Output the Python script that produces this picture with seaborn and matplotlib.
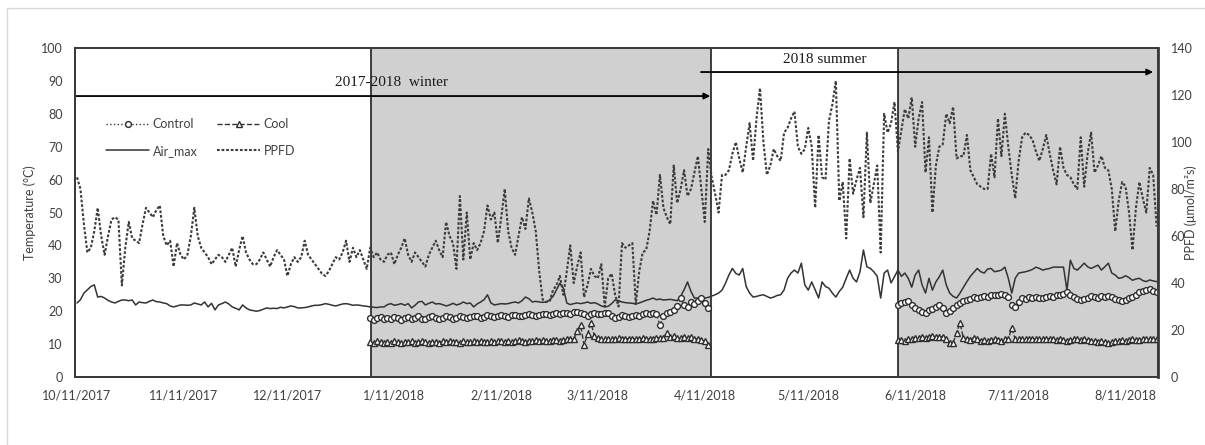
import matplotlib
matplotlib.use("Agg")
import matplotlib.pyplot as plt
from matplotlib.lines import Line2D
import numpy as np
import pandas as pd
import seaborn as sns

# ---- data -------------------------------------------------------------
start = pd.Timestamp("2017-10-11")

# daily photosynthetic photon flux density (right axis), 10/11/2017 - 8/20/2018
ppfd = [
    85, 80, 65, 53, 55, 62, 72, 60, 52, 60, 67, 68, 67, 39, 55, 66, 59, 58, 57, 65,
    72, 70, 68, 71, 73, 60, 56, 58, 47, 57, 52, 50, 52, 60, 72, 60, 55, 53, 51, 48,
    50, 52, 51, 49, 52, 55, 47, 54, 60, 53, 50, 48, 48, 50, 53, 50, 47, 51, 54, 52,
    50, 43, 48, 51, 49, 51, 58, 52, 50, 48, 46, 44, 43, 45, 48, 51, 50, 53, 58, 49,
    55, 51, 54, 50, 46, 55, 51, 53, 50, 49, 52, 53, 48, 52, 55, 59, 52, 49, 53, 51,
    49, 47, 52, 55, 58, 54, 51, 66, 60, 57, 46, 77, 50, 70, 50, 57, 54, 57, 62, 73,
    67, 70, 57, 68, 80, 62, 55, 52, 60, 68, 63, 76, 70, 62, 45, 33, 32, 32, 37, 39,
    43, 35, 45, 56, 40, 47, 53, 34, 39, 46, 43, 42, 48, 30, 42, 44, 35, 30, 57, 55,
    56, 57, 31, 45, 53, 54, 62, 75, 69, 86, 72, 68, 65, 90, 74, 80, 88, 77, 80, 87,
    94, 80, 66, 97, 85, 78, 70, 86, 86, 88, 95, 100, 93, 87, 98, 108, 92, 110, 123, 100,
    86, 90, 97, 94, 92, 104, 106, 110, 113, 98, 95, 97, 106, 98, 72, 103, 85, 84, 109, 116,
    126, 75, 83, 59, 93, 78, 84, 89, 68, 104, 74, 82, 90, 53, 112, 104, 108, 117, 96, 105,
    114, 110, 119, 98, 110, 117, 87, 102, 70, 90, 98, 99, 112, 108, 115, 93, 94, 94, 103, 88,
    85, 82, 81, 80, 80, 95, 85, 110, 94, 112, 98, 86, 76, 92, 102, 104, 103, 101, 96, 92,
    97, 103, 95, 88, 82, 98, 89, 86, 85, 82, 80, 102, 81, 95, 104, 87, 90, 94, 89, 88,
    80, 62, 75, 83, 81, 70, 54, 72, 83, 76, 70, 89, 86, 64,
]

# daily maximum air temperature (left axis), same period
air_max = [
    22.5, 23.5, 25.5, 26.5, 27.5, 28.0, 24.3, 24.5, 24.0, 23.3, 22.8, 22.5, 23.0, 23.4, 23.4, 23.2, 23.4, 21.9, 22.8, 22.6,
    22.5, 23.0, 23.4, 22.9, 22.8, 22.5, 22.3, 21.6, 21.3, 21.6, 21.9, 21.9, 21.8, 21.9, 22.5, 22.2, 21.9, 22.8, 21.3, 22.4,
    20.4, 21.9, 22.3, 22.8, 22.2, 21.3, 20.9, 20.4, 21.9, 21.0, 20.4, 20.2, 20.0, 20.2, 20.6, 21.0, 20.8, 20.9, 20.8, 21.2,
    21.0, 21.3, 21.6, 21.4, 21.0, 21.0, 21.1, 21.3, 21.6, 21.8, 21.8, 22.0, 22.3, 22.1, 21.8, 21.6, 21.9, 22.2, 22.3, 22.1,
    21.8, 21.9, 21.8, 21.6, 21.5, 21.3, 21.2, 21.1, 21.3, 21.3, 22.0, 22.3, 21.8, 22.0, 22.3, 21.8, 22.3, 21.0, 21.8, 22.8,
    23.0, 21.9, 22.4, 22.8, 22.2, 22.3, 22.0, 21.6, 21.9, 22.4, 21.9, 22.2, 22.8, 22.3, 22.5, 21.3, 22.2, 22.8, 23.5, 25.0,
    22.5, 21.9, 22.1, 22.3, 22.2, 22.3, 22.6, 22.8, 22.5, 23.2, 24.3, 23.8, 22.8, 23.0, 22.8, 22.7, 22.8, 23.4, 24.5, 26.5,
    28.5, 27.0, 22.5, 22.0, 22.3, 22.5, 22.3, 22.5, 22.8, 22.4, 22.6, 22.2, 21.6, 21.3, 21.5, 22.3, 23.4, 23.2, 22.8, 22.6,
    22.5, 22.4, 22.2, 22.5, 22.9, 23.3, 23.6, 24.0, 23.5, 23.7, 23.4, 23.5, 23.6, 23.4, 23.2, 24.5, 26.5, 28.9, 26.0, 24.0,
    24.0, 23.8, 24.0, 24.2, 24.6, 25.0, 25.5, 26.4, 28.5, 31.0, 33.0, 31.5, 31.0, 33.0, 27.5, 25.5, 24.3, 24.5, 24.8, 25.0,
    24.5, 24.0, 24.3, 24.8, 25.0, 26.5, 30.0, 31.6, 32.5, 31.6, 34.6, 28.0, 26.4, 28.9, 26.5, 24.0, 28.9, 27.5, 27.0, 25.5,
    24.3, 26.0, 27.3, 30.0, 32.5, 30.0, 28.9, 32.0, 38.6, 33.5, 33.0, 32.0, 30.6, 24.0, 31.6, 32.5, 28.6, 30.5, 32.5, 30.6,
    31.6, 30.0, 27.3, 31.0, 32.5, 28.0, 25.5, 30.0, 26.4, 28.9, 30.5, 32.5, 28.0, 25.5, 24.5, 24.0, 25.5, 27.3, 29.0, 30.6,
    31.8, 33.0, 32.0, 31.6, 32.8, 33.0, 32.0, 32.2, 32.5, 33.4, 30.0, 25.5, 30.0, 31.6, 31.8, 32.0, 32.3, 32.7, 33.4, 33.0,
    32.5, 32.8, 33.0, 33.4, 33.4, 33.4, 33.4, 26.4, 35.5, 33.0, 32.5, 33.5, 34.6, 33.5, 33.0, 33.5, 34.0, 32.5, 33.5, 34.6,
    31.6, 31.0, 30.0, 30.2, 30.8, 30.2, 29.4, 29.8, 30.0, 29.3, 29.0, 29.5, 29.2, 29.0,
]

# root-zone temperatures, winter trial (1/4/2018 - 4/12/2018)
control_winter = [
    17.9, 17.4, 17.8, 18.3, 17.6, 17.9, 17.5, 18.2, 17.8, 17.4,
    17.8, 18.3, 17.6, 17.9, 18.4, 17.7, 17.5, 18.1, 18.5, 17.9,
    17.6, 18.0, 18.4, 18.2, 17.7, 18.0, 18.5, 18.3, 17.8, 18.2,
    18.6, 18.4, 18.0, 18.3, 18.7, 18.5, 18.2, 18.6, 18.9, 18.5,
    18.3, 18.7, 18.9, 18.6, 18.4, 18.8, 19.1, 18.8, 18.6, 18.9,
    19.2, 19.0, 18.7, 19.3, 19.5, 19.1, 19.4, 19.6, 19.3, 19.7,
    19.9, 19.5, 19.2, 18.6, 19.0, 19.6, 19.3, 19.0, 19.5, 19.4,
    18.6, 18.0, 18.3, 18.8, 18.5, 18.2, 18.5, 18.9, 18.6, 19.0,
    19.4, 19.2, 19.4, 19.0, 15.8, 18.5, 19.5, 19.8, 20.4, 21.5,
    24.0, 22.0, 21.3, 22.8, 22.2, 23.0, 24.0, 22.5, 21.0,
]
cool_winter = [
    10.6, 10.3, 10.8, 10.5, 10.2, 10.7, 10.4, 10.9, 10.6, 10.3,
    10.7, 10.5, 10.8, 10.4, 10.6, 10.9, 10.5, 10.3, 10.7, 10.6,
    10.4, 10.8, 10.6, 10.9, 10.5, 10.7, 10.4, 10.8, 10.6, 10.5,
    10.8, 10.6, 10.9, 10.7, 10.5, 10.9, 10.6, 10.8, 11.0, 10.7,
    10.9, 10.6, 10.8, 11.1, 10.9, 10.7, 11.0, 10.8, 11.1, 10.9,
    11.2, 11.0, 10.8, 11.1, 11.3, 11.0, 11.2, 11.4, 11.5, 11.5,
    14.0, 15.8, 9.7, 13.0, 16.4, 12.5, 11.8, 11.6, 11.4, 11.7,
    11.5, 11.6, 11.8, 11.5, 11.7, 11.6, 11.4, 11.7, 11.5, 11.8,
    11.6, 11.5, 11.7, 11.9, 11.8, 12.0, 13.4, 12.2, 12.6, 12.0,
    11.8, 12.2, 11.9, 12.1, 11.7, 11.5, 11.2, 10.8, 9.8,
]

# root-zone temperatures, summer trial (6/6/2018 - 8/20/2018)
control_summer = [
    22.0, 22.6, 22.8, 23.2, 21.8, 21.0, 20.4, 19.8, 19.6, 20.3,
    20.6, 21.3, 21.9, 21.0, 19.6, 20.2, 21.0, 21.9, 22.6, 23.0,
    23.4, 23.8, 24.2, 24.0, 24.3, 24.5, 24.3, 24.8, 25.0, 24.8,
    25.2, 25.0, 24.3, 22.0, 21.3, 22.8, 24.0, 23.8, 24.2, 24.0,
    24.3, 24.1, 24.0, 24.4, 24.6, 24.3, 24.8, 25.0, 25.3, 25.8,
    25.0, 24.3, 23.6, 23.4, 23.6, 24.0, 24.6, 24.3, 24.0, 24.5,
    24.2, 24.6, 24.3, 23.8, 23.4, 23.2, 23.4, 24.0, 24.3, 25.0,
    25.8, 26.0, 26.4, 26.8, 26.0, 25.8,
]
cool_summer = [
    11.2, 11.3, 11.0, 11.4, 11.6, 11.8, 12.0, 12.2, 12.0, 12.3,
    12.4, 12.2, 12.2, 12.3, 11.6, 10.3, 10.4, 13.5, 16.4, 11.8,
    11.6, 11.2, 12.0, 11.5, 11.0, 11.2, 10.8, 11.2, 11.5, 11.2,
    11.0, 11.6, 11.6, 14.8, 11.5, 11.6, 11.5, 11.6, 11.7, 11.5,
    11.6, 11.5, 11.4, 11.6, 11.7, 11.5, 11.3, 11.4, 11.2, 11.0,
    11.2, 11.4, 11.6, 11.3, 11.5, 11.2, 11.0, 10.8, 10.6, 10.9,
    10.5, 10.3, 10.6, 10.8, 11.0, 11.2, 10.9, 11.2, 11.4, 11.1,
    11.3, 11.5, 11.4, 11.6, 11.5, 11.6,
]

tick_dates = ["2017-10-11", "2017-11-11", "2017-12-11", "2018-01-11", "2018-02-11", "2018-03-11",
              "2018-04-11", "2018-05-11", "2018-06-11", "2018-07-11", "2018-08-11"]
season_labels = ["2017-2018  winter", "2018 summer"]
legend_labels = ["Control", "Air_max", "Cool", "PPFD"]

# ---- frames -----------------------------------------------------------
all_days = pd.date_range(start, periods=len(ppfd), freq="D")
df_env = pd.DataFrame({"date": all_days, "ppfd": ppfd, "air_max": air_max})
win_days = pd.date_range("2018-01-04", periods=len(control_winter), freq="D")
sum_days = pd.date_range("2018-06-06", periods=len(control_summer), freq="D")
df_win = pd.DataFrame({"date": win_days, "control": control_winter, "cool": cool_winter})
df_sum = pd.DataFrame({"date": sum_days, "control": control_summer, "cool": cool_summer})


def day(n):
    return start + pd.Timedelta(days=n)


# ---- style ------------------------------------------------------------
sns.set_style("white")
plt.rcParams["font.family"] = ["Lato", "DejaVu Sans"]
plt.rcParams["font.size"] = 9
txt_col = "#404040"
frame_col = "#3a3a3a"

fig = plt.figure(figsize=(12.05, 4.45), dpi=100)
ax = fig.add_axes([0.0622, 0.1528, 0.8988, 0.7393])
ax2 = ax.twinx()

# shaded treatment periods
shade = "#d0d0d0"
ax.axvspan(day(85.2), day(183.8), color=shade, zorder=0, lw=0)
ax.axvspan(day(238.0), day(313.4), color=shade, zorder=0, lw=0)
for d in (85.2, 183.8, 238.0):
    ax.axvline(day(d), color="#202020", lw=1.2, zorder=1)

line_col = "#333333"
mk = dict(markersize=4.2, markerfacecolor="white", markeredgecolor="#2e2e2e", markeredgewidth=1.0)

sns.lineplot(data=df_env, x="date", y="air_max", ax=ax, color=line_col, lw=1.1, zorder=3)
for seg in (df_win, df_sum):
    sns.lineplot(data=seg, x="date", y="control", ax=ax, color=line_col, lw=1.0,
                 linestyle=":", marker="o", zorder=4, **mk)
    sns.lineplot(data=seg, x="date", y="cool", ax=ax, color=line_col, lw=1.0,
                 linestyle="--", marker="^", zorder=4, **mk)

sns.lineplot(data=df_env, x="date", y="ppfd", ax=ax2, color="#3c3c3c", lw=1.5,
             linestyle=(0, (1.3, 0.9)), zorder=3)

# ---- axes -------------------------------------------------------------
ax.set_xlim(day(-0.6), day(313.4))
ax.set_ylim(0, 100)
ax2.set_ylim(0, 140)
ax.set_yticks(np.arange(0, 101, 10))
ax2.set_yticks(np.arange(0, 141, 20))
ticks = pd.to_datetime(tick_dates)
ax.set_xticks(ticks)
ax.set_xticklabels([f"{t.month}/{t.day}/{t.year}" for t in ticks])

for a in (ax, ax2):
    a.tick_params(length=0, labelsize=9, labelcolor=txt_col)
    for s in a.spines.values():
        s.set_color(frame_col)
        s.set_linewidth(1.3)
ax.tick_params(axis="y", pad=9)
ax.tick_params(axis="x", pad=9)
ax2.tick_params(axis="y", pad=9)
ax2.spines["right"].set_linewidth(2.0)

ax.set_xlabel("")
ax.set_ylabel("Temperature (°C)", fontsize=9, color=txt_col)
ax.yaxis.set_label_coords(-0.036, 0.5)
ax2.set_ylabel("PPFD (μmol/m²s)", fontsize=9, color=txt_col, rotation=90)
ax2.yaxis.set_label_coords(1.0245, 0.5)

# ---- season annotations ---------------------------------------------
arrow = dict(arrowstyle="-|>", color="black", lw=1.3, mutation_scale=9, shrinkA=0, shrinkB=0)
ax.annotate("", xy=(day(183.6), 85.4), xytext=(day(-0.6), 85.4), arrowprops=arrow,
            annotation_clip=False, zorder=6)
ax.annotate("", xy=(day(312.0), 92.7), xytext=(day(180.9), 92.7), arrowprops=arrow,
            annotation_clip=False, zorder=6)
serif = ["Liberation Serif", "DejaVu Serif"]
ax.text(day(91.3), 89.4, season_labels[0], ha="center", va="center", fontsize=11,
        family=serif, color="#1a1a1a", zorder=6)
ax.text(day(216.8), 96.4, season_labels[1], ha="center", va="center", fontsize=11,
        family=serif, color="#1a1a1a", zorder=6)

# ---- legend -----------------------------------------------------------
handles = [
    Line2D([], [], color=line_col, lw=1.0, linestyle=":", marker="o", **mk),
    Line2D([], [], color=line_col, lw=1.1),
    Line2D([], [], color=line_col, lw=1.0, linestyle="--", marker="^", **mk),
    Line2D([], [], color="#3c3c3c", lw=1.5, linestyle=(0, (1.3, 0.9))),
]
leg = ax2.legend(handles, legend_labels, ncol=2, loc="upper left", bbox_to_anchor=(0.029, 0.786),
                 frameon=False, fontsize=9, handlelength=3.4, columnspacing=1.6,
                 labelspacing=1.15, borderpad=0, borderaxespad=0, handletextpad=0.3)
for t in leg.get_texts():
    t.set_color(txt_col)

# light outer chart border
fig.add_artist(Line2D([7 / 1205, 1.0], [1 - 8 / 445, 1 - 8 / 445], transform=fig.transFigure,
                      color="#d9d9d9", lw=1.0))
fig.add_artist(Line2D([7 / 1205, 7 / 1205], [0.0, 1 - 8 / 445], transform=fig.transFigure,
                      color="#d9d9d9", lw=1.0))

fig.savefig("out.png", dpi=100)
